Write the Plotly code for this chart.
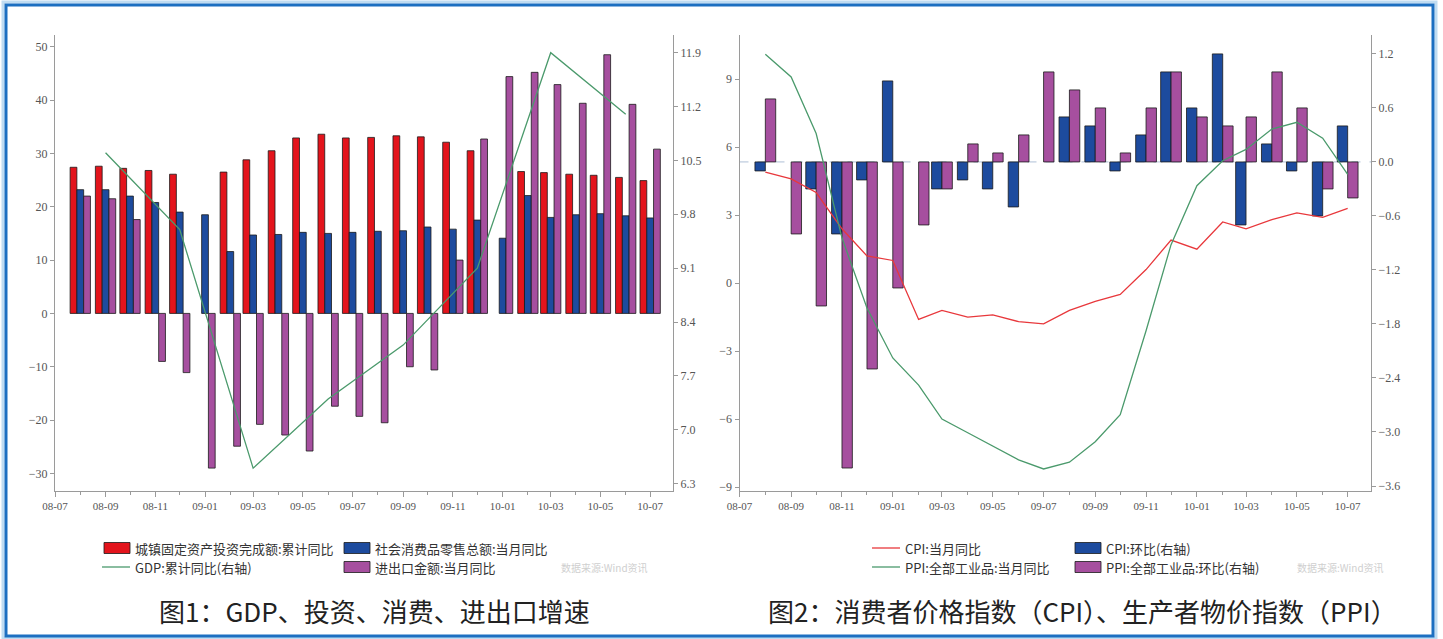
import plotly.graph_objects as go

# ---------------- data ----------------
months = ["2008-08-01", "2008-09-01", "2008-10-01", "2008-11-01", "2008-12-01",
          "2009-01-01", "2009-02-01", "2009-03-01", "2009-04-01", "2009-05-01",
          "2009-06-01", "2009-07-01", "2009-08-01", "2009-09-01", "2009-10-01",
          "2009-11-01", "2009-12-01", "2010-01-01", "2010-02-01", "2010-03-01",
          "2010-04-01", "2010-05-01", "2010-06-01", "2010-07-01"]

# Chart 1
fai_cum = [27.4, 27.6, 27.2, 26.8, 26.1, None, 26.5, 28.8, 30.5, 32.9, 33.6, 32.9,
           33.0, 33.3, 33.1, 32.1, 30.5, None, 26.6, 26.4, 26.1, 25.9, 25.5, 24.9]
retail_yoy = [23.2, 23.2, 22.0, 20.8, 19.0, 18.5, 11.6, 14.7, 14.8, 15.2, 15.0, 15.2,
              15.4, 15.5, 16.2, 15.8, 17.5, 14.1, 22.1, 18.0, 18.5, 18.7, 18.3, 17.9]
trade_yoy = [22.0, 21.5, 17.6, -9.0, -11.1, -29.0, -24.9, -20.8, -22.8, -25.8, -17.4, -19.3,
             -20.5, -10.0, -10.6, 10.0, 32.7, 44.4, 45.2, 42.9, 39.4, 48.5, 39.2, 30.8]
gdp_quarters = ["2008-09-01", "2008-12-01", "2009-03-01", "2009-06-01",
                "2009-09-01", "2009-12-01", "2010-03-01", "2010-06-01"]
gdp_cum = [10.6, 9.6, 6.5, 7.4, 8.1, 9.1, 11.9, 11.1]

# Chart 2
cpi_yoy = [4.9, 4.6, 4.0, 2.4, 1.2, 1.0, -1.6, -1.2, -1.5, -1.4, -1.7, -1.8,
           -1.2, -0.8, -0.5, 0.6, 1.9, 1.5, 2.7, 2.4, 2.8, 3.1, 2.9, 3.3]
ppi_yoy = [10.1, 9.1, 6.6, 2.0, -1.1, -3.3, -4.5, -6.0, -6.6, -7.2, -7.8, -8.2,
           -7.9, -7.0, -5.8, -2.1, 1.7, 4.3, 5.4, 5.9, 6.8, 7.1, 6.4, 4.8]
cpi_mom = [-0.1, None, -0.3, -0.8, -0.2, 0.9, None, -0.3, -0.2, -0.3, -0.5, None,
           0.5, 0.4, -0.1, 0.3, 1.0, 0.6, 1.2, -0.7, 0.2, -0.1, -0.6, 0.4]
ppi_mom = [0.7, -0.8, -1.6, -3.4, -2.3, -1.4, -0.7, -0.3, 0.2, 0.1, 0.3, 1.0,
           0.8, 0.6, 0.1, 0.6, 1.0, 0.5, 0.4, 0.5, 1.0, 0.6, -0.3, -0.4]

# ---------------- styles ----------------
RED = "#e3141c"
BLUE = "#1d4b9e"
PURPLE = "#a64f9f"
GREEN = "#4b9a6c"
LRED = "#e8383c"
OUT = dict(color="#1a1a1a", width=0.8)
W, H = 1443, 639


def px(x):
    return x / W


def py(y):
    return (H - y) / H


fig = go.Figure()

# chart 1 bars
fig.add_trace(go.Bar(x=months, y=fai_cum, name="城镇固定资产投资完成额:累计同比",
                     marker=dict(color=RED, line=OUT), xaxis="x", yaxis="y"))
fig.add_trace(go.Bar(x=months, y=retail_yoy, name="社会消费品零售总额:当月同比",
                     marker=dict(color=BLUE, line=OUT), xaxis="x", yaxis="y"))
fig.add_trace(go.Bar(x=months, y=trade_yoy, name="进出口金额:当月同比",
                     marker=dict(color=PURPLE, line=OUT), xaxis="x", yaxis="y"))
fig.add_trace(go.Scatter(x=gdp_quarters, y=gdp_cum, name="GDP:累计同比(右轴)", mode="lines",
                         line=dict(color=GREEN, width=1.3), xaxis="x", yaxis="y2"))

# chart 2 bars (right axis is the base axis so lines are drawn on top)
fig.add_trace(go.Bar(x=months, y=cpi_mom, name="CPI:环比(右轴)",
                     marker=dict(color=BLUE, line=OUT), xaxis="x2", yaxis="y3"))
fig.add_trace(go.Bar(x=months, y=ppi_mom, name="PPI:全部工业品:环比(右轴)",
                     marker=dict(color=PURPLE, line=OUT), xaxis="x2", yaxis="y3"))
fig.add_trace(go.Scatter(x=months, y=cpi_yoy, name="CPI:当月同比", mode="lines",
                         line=dict(color=LRED, width=1.3), xaxis="x2", yaxis="y4"))
fig.add_trace(go.Scatter(x=months, y=ppi_yoy, name="PPI:全部工业品:当月同比", mode="lines",
                         line=dict(color=GREEN, width=1.3), xaxis="x2", yaxis="y4"))

tickfont = dict(family="Liberation Serif, serif", size=12, color="#555")
xtickfont = dict(family="Liberation Serif, serif", size=11, color="#555")
AX = dict(showline=True, linecolor="#9a9a9a", linewidth=1, showgrid=False, zeroline=False,
          ticks="outside", tickcolor="#9a9a9a", ticklen=4, tickfont=tickfont, automargin=False)
XAX = dict(AX, type="date", range=["2008-07-01", "2010-07-29"], tick0="2008-07-01",
           dtick="M2", tickformat="%y-%m", ticklen=5, tickfont=xtickfont,
           minor=dict(dtick="M1", ticks="outside", ticklen=3, tickcolor="#9a9a9a", showgrid=False))

ydom = [py(490.5), py(35)]

fig.update_layout(
    width=W, height=H, margin=dict(l=0, r=0, t=0, b=0, autoexpand=False),
    paper_bgcolor="white", plot_bgcolor="white",
    showlegend=False, barmode="group", bargap=0.11, bargroupgap=0,
    xaxis=dict(XAX, domain=[px(55), px(673)], anchor="y"),
    yaxis=dict(AX, domain=ydom, anchor="x", range=[-33.2, 52.2], tick0=0, dtick=10),
    yaxis2=dict(AX, overlaying="y", side="right", anchor="x", range=[6.21, 12.13],
                tick0=6.3, dtick=0.7, tickformat=".1f"),
    xaxis2=dict(XAX, domain=[px(739.5), px(1371)], anchor="y3"),
    yaxis3=dict(AX, domain=ydom, anchor="x2", side="right", range=[-3.65, 1.41],
                tick0=0, dtick=0.6, tickformat=".1f"),
    yaxis4=dict(AX, overlaying="y3", side="left", anchor="x2", range=[-9.15, 10.95],
                tick0=0, dtick=3),
)

shapes = []
# dashed base line at zero of the bar axis in chart 2
shapes.append(dict(type="line", xref="x2 domain", yref="y3", x0=0, x1=1, y0=0, y1=0,
                   line=dict(color="#aebfd6", width=1, dash="dash"), layer="below"))
# outer frame
shapes.append(dict(type="rect", xref="paper", yref="paper", x0=px(3), x1=px(1436),
                   y0=py(638), y1=py(2), line=dict(color="#bfdcf2", width=3)))
shapes.append(dict(type="rect", xref="paper", yref="paper", x0=px(6), x1=px(1433),
                   y0=py(636), y1=py(5), line=dict(color="#1c6fc1", width=3)))

annotations = []
LFONT = dict(family="Noto Sans CJK SC, sans-serif", size=13, color="#333")


def legend_box(x, y, color, text):
    shapes.append(dict(type="rect", xref="paper", yref="paper", x0=px(x), x1=px(x + 26),
                       y0=py(y + 5.5), y1=py(y - 5.5), fillcolor=color,
                       line=dict(color="#1a1a1a", width=0.8)))
    annotations.append(dict(xref="paper", yref="paper", x=px(x + 29), y=py(y), text=text,
                            showarrow=False, xanchor="left", yanchor="middle", font=LFONT))


def legend_line(x, y, color, text):
    shapes.append(dict(type="line", xref="paper", yref="paper", x0=px(x - 2), x1=px(x + 26),
                       y0=py(y), y1=py(y), line=dict(color=color, width=1.3)))
    annotations.append(dict(xref="paper", yref="paper", x=px(x + 29), y=py(y), text=text,
                            showarrow=False, xanchor="left", yanchor="middle", font=LFONT))


R1, R2 = 548, 567
legend_box(104, R1, RED, "城镇固定资产投资完成额:累计同比")
legend_box(344, R1, BLUE, "社会消费品零售总额:当月同比")
legend_line(104, R2, GREEN, "GDP:累计同比(右轴)")
legend_box(344, R2, PURPLE, "进出口金额:当月同比")

legend_line(874, R1, LRED, "CPI:当月同比")
legend_box(1075, R1, BLUE, "CPI:环比(右轴)")
legend_line(874, R2, GREEN, "PPI:全部工业品:当月同比")
legend_box(1075, R2, PURPLE, "PPI:全部工业品:环比(右轴)")

WM = dict(family="Noto Sans CJK SC, sans-serif", size=10, color="#cfcfcf")
annotations.append(dict(xref="paper", yref="paper", x=px(604), y=py(567), text="数据来源:Wind资讯",
                        showarrow=False, xanchor="center", yanchor="middle", font=WM))
annotations.append(dict(xref="paper", yref="paper", x=px(1340), y=py(567), text="数据来源:Wind资讯",
                        showarrow=False, xanchor="center", yanchor="middle", font=WM))

CAP = dict(family="Noto Sans CJK SC, sans-serif", size=26, color="#222")
annotations.append(dict(xref="paper", yref="paper", x=px(374), y=py(610),
                        text="图1：GDP、投资、消费、进出口增速",
                        showarrow=False, xanchor="center", yanchor="middle", font=CAP))
annotations.append(dict(xref="paper", yref="paper", x=px(1082), y=py(610),
                        text="图2：消费者价格指数（CPI）、生产者物价指数（PPI）",
                        showarrow=False, xanchor="center", yanchor="middle", font=CAP))

fig.update_layout(shapes=shapes, annotations=annotations)
fig.write_html("out.html")
